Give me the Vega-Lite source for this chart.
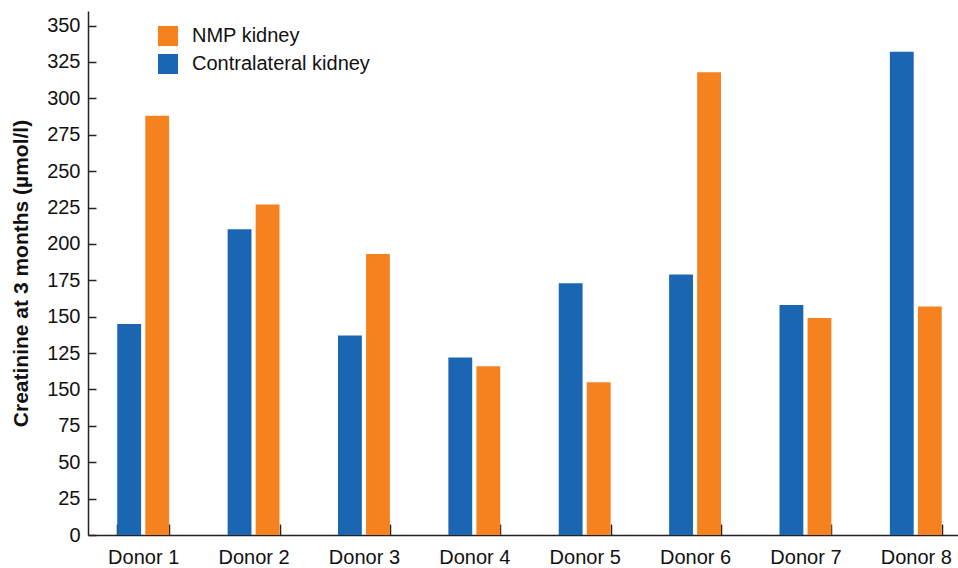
{
  "$schema": "https://vega.github.io/schema/vega-lite/v6.json",
  "autosize": "none",
  "width": 883,
  "height": 524,
  "padding": {"left": 88, "top": 11, "right": 0, "bottom": 33},
  "config": {
    "view": {"stroke": null},
    "font": "Liberation Sans",
    "axis": {"grid": false, "domainColor": "#222", "tickColor": "#222", "domainWidth": 1.5, "tickWidth": 1.5, "labelColor": "#111", "labelFont": "Liberation Sans", "titleFont": "Liberation Sans"}
  },
  "data": {
    "values": [
      {"donor": "Donor 1", "kidney": "Contralateral kidney", "value": 145},
      {"donor": "Donor 1", "kidney": "NMP kidney", "value": 288},
      {"donor": "Donor 2", "kidney": "Contralateral kidney", "value": 210},
      {"donor": "Donor 2", "kidney": "NMP kidney", "value": 227},
      {"donor": "Donor 3", "kidney": "Contralateral kidney", "value": 137},
      {"donor": "Donor 3", "kidney": "NMP kidney", "value": 193},
      {"donor": "Donor 4", "kidney": "Contralateral kidney", "value": 122},
      {"donor": "Donor 4", "kidney": "NMP kidney", "value": 116},
      {"donor": "Donor 5", "kidney": "Contralateral kidney", "value": 173},
      {"donor": "Donor 5", "kidney": "NMP kidney", "value": 105},
      {"donor": "Donor 6", "kidney": "Contralateral kidney", "value": 179},
      {"donor": "Donor 6", "kidney": "NMP kidney", "value": 318},
      {"donor": "Donor 7", "kidney": "Contralateral kidney", "value": 158},
      {"donor": "Donor 7", "kidney": "NMP kidney", "value": 149},
      {"donor": "Donor 8", "kidney": "Contralateral kidney", "value": 332},
      {"donor": "Donor 8", "kidney": "NMP kidney", "value": 157}
    ]
  },
  "mark": {"type": "bar"},
  "encoding": {
    "x": {
      "field": "donor", "type": "nominal",
      "scale": {"paddingInner": 0.53, "paddingOuter": 0.265},
      "axis": {"title": null, "labelAngle": 0, "labelFontSize": 20, "tickBand": "extent", "tickSize": -11, "labelPadding": 23, "domainWidth": 1.5}
    },
    "xOffset": {
      "field": "kidney", "type": "nominal",
      "sort": ["Contralateral kidney", "NMP kidney"],
      "scale": {"paddingInner": 0.15}
    },
    "y": {
      "field": "value", "type": "quantitative",
      "scale": {"domain": [0, 360], "nice": false},
      "axis": {
        "title": "Creatinine at 3 months (µmol/l)",
        "titleFontSize": 21, "titleFontWeight": "bold", "titleColor": "#111",
        "titleX": -67, "titleBaseline": "middle",
        "values": [0, 25, 50, 75, 100, 125, 150, 175, 200, 225, 250, 275, 300, 325, 350],
        "labelExpr": "datum.value == 100 ? '150' : datum.label",
        "labelFontSize": 20, "tickSize": -8, "labelPadding": 16
      }
    },
    "color": {
      "field": "kidney", "type": "nominal",
      "scale": {"domain": ["NMP kidney", "Contralateral kidney"], "range": ["#F5821F", "#1A66B3"]},
      "legend": {
        "title": null, "orient": "none", "legendX": 70, "legendY": 15,
        "symbolType": "square", "symbolSize": 400, "symbolStrokeWidth": 0, "symbolOpacity": 1,
        "labelFontSize": 20, "labelColor": "#111", "labelOffset": 14, "labelLimit": 400, "rowPadding": 8, "padding": 0
      }
    }
  }
}
